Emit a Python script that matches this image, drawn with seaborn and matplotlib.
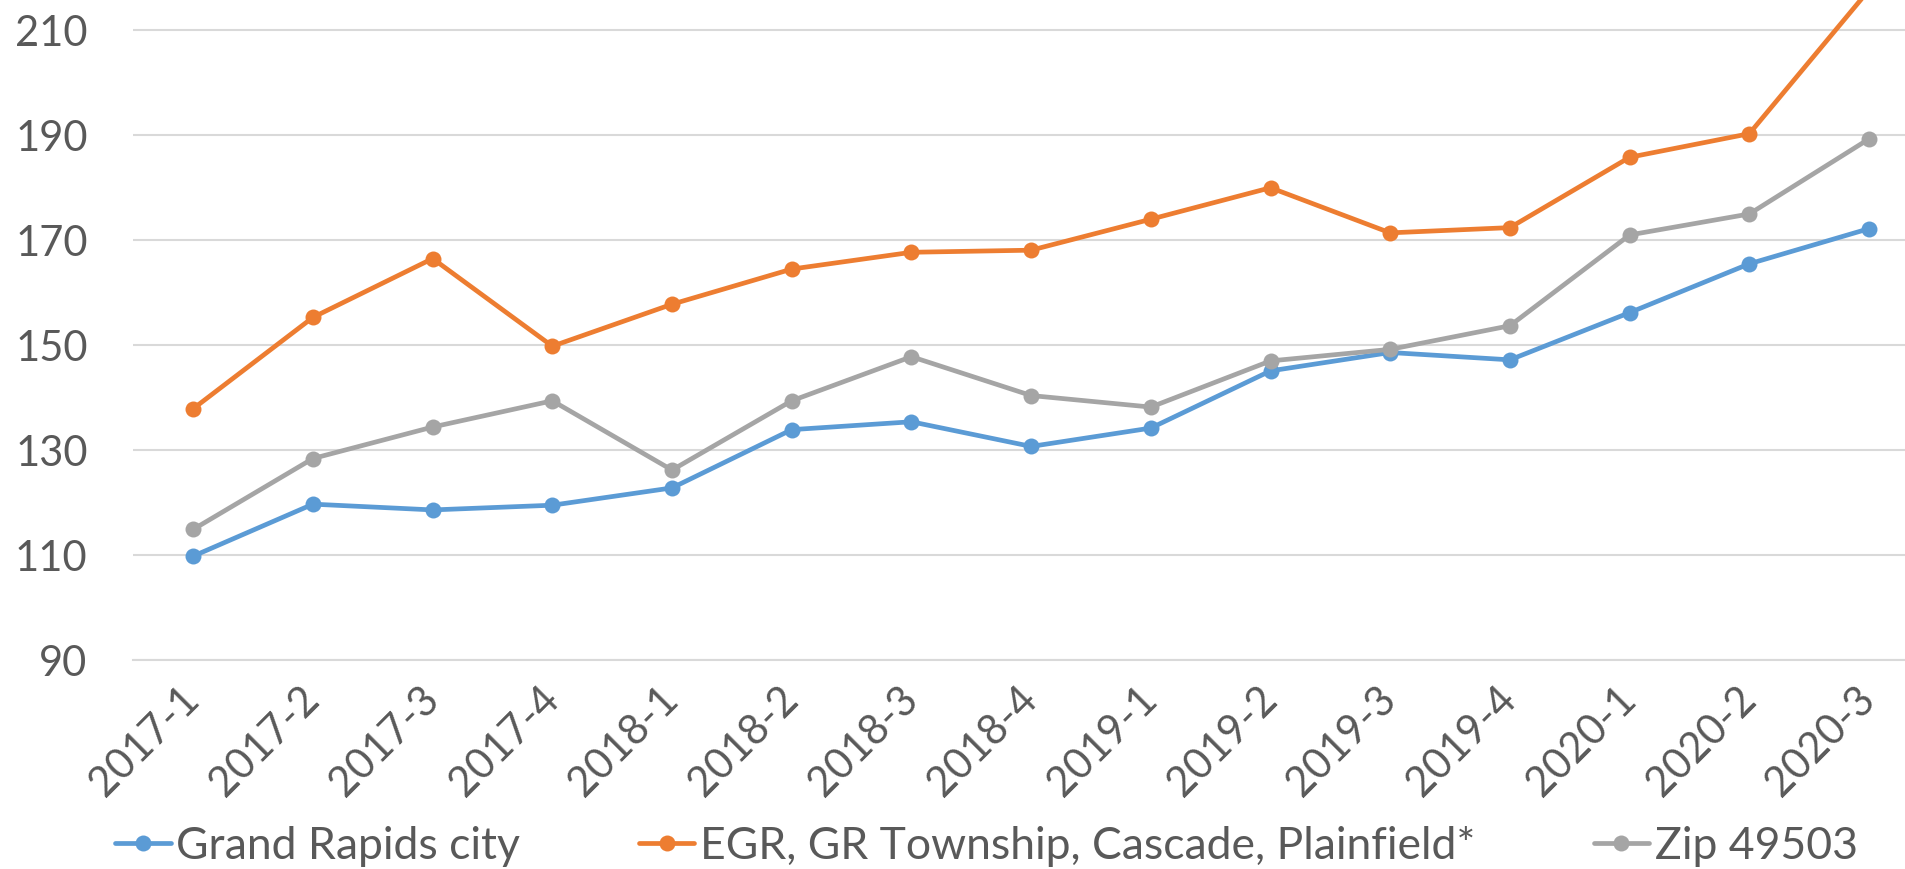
import seaborn as sns
import pandas as pd
import matplotlib.pyplot as plt
from matplotlib.ticker import FixedLocator

quarters = ["2017-1", "2017-2", "2017-3", "2017-4", "2018-1", "2018-2", "2018-3", "2018-4",
            "2019-1", "2019-2", "2019-3", "2019-4", "2020-1", "2020-2", "2020-3"]
grand_rapids = [109.8, 119.7, 118.6, 119.5, 122.8, 133.9, 135.4, 130.7,
                134.2, 145.1, 148.6, 147.2, 156.2, 165.5, 172.2]
egr_group = [137.9, 155.3, 166.5, 149.8, 157.8, 164.5, 167.7, 168.1,
             174.0, 180.0, 171.4, 172.4, 185.8, 190.3, 217.7]
zip_49503 = [114.9, 128.4, 134.4, 139.4, 126.2, 139.4, 147.8, 140.4,
             138.2, 147.0, 149.2, 153.7, 171.0, 175.0, 189.3]
series_names = ["Grand Rapids city", "EGR, GR Township, Cascade, Plainfield*", "Zip 49503"]
colors = ["#5B9BD5", "#ED7D31", "#A5A5A5"]

df = pd.DataFrame({
    "quarter": quarters * 3,
    "value": grand_rapids + egr_group + zip_49503,
    "series": [series_names[0]] * 15 + [series_names[1]] * 15 + [series_names[2]] * 15,
})

sns.set_style("white")
plt.rcParams["font.family"] = ["Lato", "DejaVu Sans"]
text_color = "#595959"
grid_color = "#D9D9D9"

fig = plt.figure(figsize=(19.06, 8.69), dpi=100)
# axes runs past the top and right edge (the reference is a cropped screenshot)
ax = fig.add_axes([0.070, 0.2405, 0.942, 0.8454])

sns.lineplot(data=df, x="quarter", y="value", hue="series", palette=colors,
             marker="o", markersize=11.5, markeredgewidth=0, linewidth=3.4,
             sort=False, ax=ax, legend=True)

ax.set_xlim(-0.5, 14.5)
ax.set_ylim(90, 230)
ax.set_yticks(range(90, 231, 20))
ax.set_yticklabels([str(v) if v <= 210 else "" for v in range(90, 231, 20)])
ax.yaxis.grid(True, color=grid_color, linewidth=1.5)
ax.set_axisbelow(True)
for s in ["top", "right", "left"]:
    ax.spines[s].set_visible(False)
ax.spines["bottom"].set_color(grid_color)
ax.spines["bottom"].set_linewidth(1.5)

ax.tick_params(axis="y", length=0, pad=33, labelsize=30, labelcolor=text_color)
ax.tick_params(axis="x", which="major", length=0, pad=24, labelsize=30, labelcolor=text_color)
ax.xaxis.set_minor_locator(FixedLocator([i - 0.5 for i in range(16)]))
ax.tick_params(axis="x", which="minor", length=11, width=1.5, color=grid_color, direction="out")
for lab in ax.get_xticklabels():
    lab.set_rotation(45)
    lab.set_ha("right")
    lab.set_rotation_mode("anchor")
    lab.set_va("center")
ax.set_xlabel("")
ax.set_ylabel("")

handles, labels = ax.get_legend_handles_labels()
ax.get_legend().remove()
leg = fig.legend(handles, labels, loc="center", bbox_to_anchor=(0.5175, 0.026), ncol=3,
                 frameon=False, fontsize=32, handlelength=1.25, handletextpad=0.12,
                 columnspacing=2.67, borderpad=0, borderaxespad=0)
for t in leg.get_texts():
    t.set_color(text_color)

fig.savefig("out.png", dpi=100)
